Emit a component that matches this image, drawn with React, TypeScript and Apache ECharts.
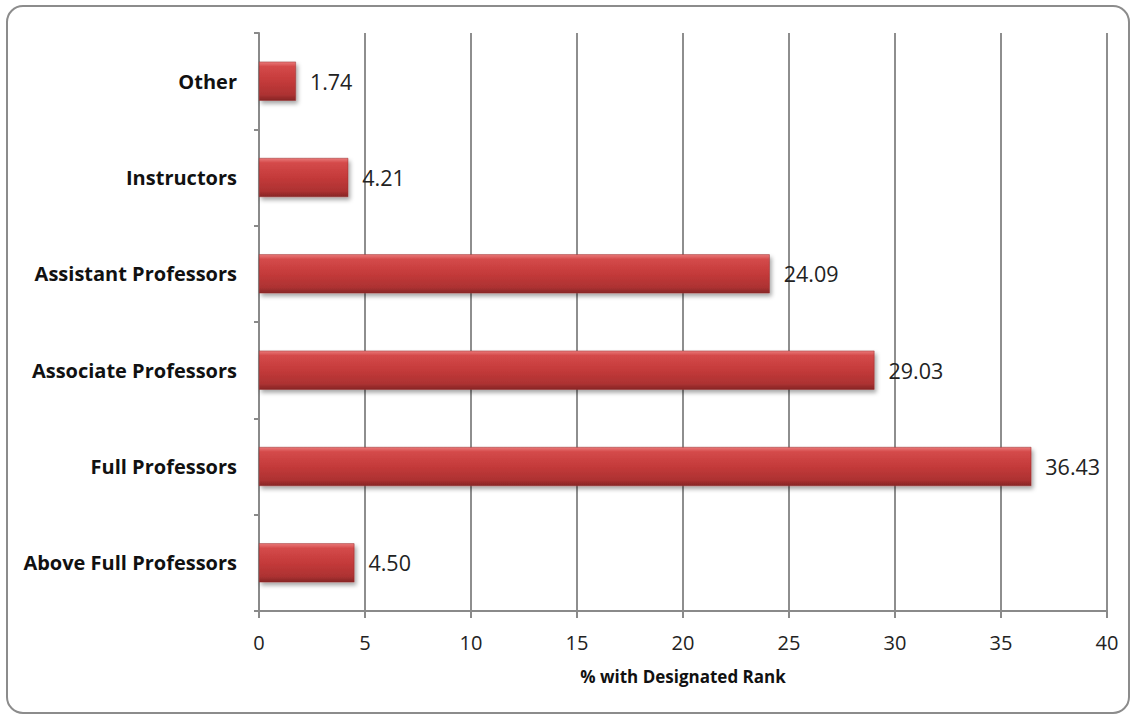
import React, { useEffect, useRef } from "react";
import * as echarts from "echarts";

// Faculty rank categories, listed bottom-to-top as drawn on the category axis
const categories = [
  "Above Full Professors",
  "Full Professors",
  "Associate Professors",
  "Assistant Professors",
  "Instructors",
  "Other",
];
const percentages = [4.5, 36.43, 29.03, 24.09, 4.21, 1.74];
const xTicks = { min: 0, max: 40, interval: 5 };
const xAxisTitle = "% with Designated Rank";

const FONT = "'Open Sans', Lato, 'Liberation Sans', sans-serif";

export default function App() {
  const ref = useRef<HTMLDivElement>(null);

  useEffect(() => {
    if (!ref.current) return;
    const chart = echarts.init(ref.current, null, { renderer: "svg" });

    const barFill = new echarts.graphic.LinearGradient(0, 0, 0, 1, [
      { offset: 0, color: "#ea7a7a" },
      { offset: 0.12, color: "#d44a4a" },
      { offset: 0.5, color: "#c43a3a" },
      { offset: 0.85, color: "#ad3232" },
      { offset: 1, color: "#862626" },
    ]);

    chart.setOption({
      animation: false,
      backgroundColor: "#ffffff",
      grid: { left: 259, right: 29, top: 33, bottom: 105, containLabel: false },
      graphic: [
        {
          type: "rect",
          shape: { x: 7, y: 6, width: 1122, height: 707, r: 16 },
          style: { fill: "none", stroke: "#8c8c8c", lineWidth: 2 },
          silent: true,
          z: -10,
        },
      ],
      xAxis: {
        type: "value",
        min: xTicks.min,
        max: xTicks.max,
        interval: xTicks.interval,
        name: xAxisTitle,
        nameLocation: "middle",
        nameGap: 57,
        nameTextStyle: { fontFamily: FONT, fontWeight: "bold", fontSize: 17, color: "#111" },
        axisLine: { show: true, lineStyle: { color: "#8a8a8a", width: 2 } },
        axisTick: { show: true, length: 7, lineStyle: { color: "#8a8a8a", width: 2 } },
        axisLabel: { fontFamily: FONT, fontSize: 20, color: "#222", margin: 21 },
        splitLine: { show: true, lineStyle: { color: "#8e8e8e", width: 2 } },
      },
      yAxis: {
        type: "category",
        data: categories,
        axisLine: { show: true, lineStyle: { color: "#8a8a8a", width: 2 } },
        axisTick: { show: true, length: 5, lineStyle: { color: "#8a8a8a", width: 2 } },
        axisLabel: {
          fontFamily: FONT,
          fontWeight: "bold",
          fontSize: 20,
          color: "#111",
          margin: 22,
        },
      },
      series: [
        {
          type: "bar",
          data: percentages,
          barWidth: 39,
          itemStyle: {
            color: barFill,
            borderColor: "#962c2c",
            borderWidth: 0.5,
            shadowColor: "rgba(0,0,0,0.35)",
            shadowBlur: 4,
            shadowOffsetX: 2,
            shadowOffsetY: 3,
          },
          label: {
            show: true,
            position: "right",
            distance: 14,
            formatter: (p: any) => Number(p.value).toFixed(2),
            fontFamily: FONT,
            fontSize: 21.5,
            color: "#222",
          },
        },
      ],
    });

    return () => chart.dispose();
  }, []);

  return (
    <div
      ref={ref}
      style={{ position: "fixed", left: 0, top: 0, width: 1136, height: 716, background: "#fff" }}
    />
  );
}
